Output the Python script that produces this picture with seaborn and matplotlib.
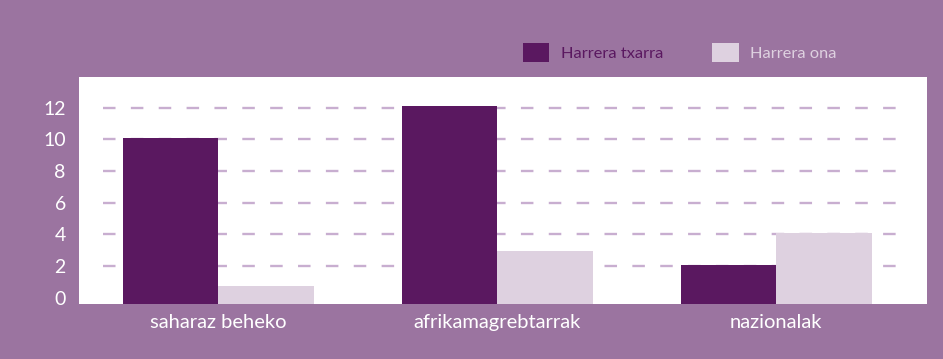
import matplotlib
matplotlib.use("Agg")
import matplotlib.pyplot as plt
import seaborn as sns
import pandas as pd
from matplotlib.patches import Patch

# Data
categories = ["saharaz beheko", "afrikamagrebtarrak", "nazionalak"]
series_names = ["Harrera txarra", "Harrera ona"]
harrera_txarra = [10.1, 12.1, 2.05]
harrera_ona = [0.75, 2.95, 4.1]
y_ticks = [0, 2, 4, 6, 8, 10, 12]

BG = "#9b74a0"
DARK = "#5a1860"
LIGHT = "#ded1e0"
GRID = "#c8aed0"

df = pd.DataFrame({
    "kategoria": categories * 2,
    "serie": [series_names[0]] * 3 + [series_names[1]] * 3,
    "balioa": harrera_txarra + harrera_ona,
})

sns.set_theme(style="white")
plt.rcParams["font.family"] = ["Lato", "DejaVu Sans"]

fig = plt.figure(figsize=(9.43, 3.59), dpi=100, facecolor=BG)
ax = fig.add_axes([0.0838, 0.1532, 0.8992, 0.6331])
ax.set_facecolor("white")

sns.barplot(data=df, x="kategoria", y="balioa", hue="serie",
            hue_order=series_names, palette=[DARK, LIGHT],
            width=0.687, saturation=1, errorbar=None, linewidth=0,
            legend=False, ax=ax, zorder=3)

ymin, ymax = -0.4, 13.96
ax.set_ylim(ymin, ymax)
ax.set_xlim(-0.5, 2.54)

# bars are anchored to the bottom edge of the plot area
for p in ax.patches:
    top = p.get_y() + p.get_height()
    p.set_y(ymin)
    p.set_height(top - ymin)

# dashed guide lines
for t in y_ticks[1:]:
    ax.axhline(t, xmin=0.028, xmax=0.965, color=GRID, lw=1.7,
               linestyle=(0, (5.3, 6.5)), zorder=1)

ax.set_yticks(y_ticks)
ax.set_yticklabels([str(t) for t in y_ticks])
ax.tick_params(axis="y", length=0, pad=9.5, labelsize=14, labelcolor="white")
ax.tick_params(axis="x", length=0, pad=7, labelsize=14.5, labelcolor="white")
ax.set_xlabel("")
ax.set_ylabel("")
for s in ax.spines.values():
    s.set_visible(False)
ax.grid(False)

handles = [Patch(facecolor=DARK, edgecolor="none"),
           Patch(facecolor=LIGHT, edgecolor="none")]
leg = fig.legend(handles, series_names, loc="center",
                 bbox_to_anchor=(0.721, 0.854), ncol=2, frameon=False,
                 fontsize=11.8, handlelength=1.6, handleheight=1.45,
                 handletextpad=0.7, columnspacing=3.0)
for txt, col in zip(leg.get_texts(), [DARK, LIGHT]):
    txt.set_color(col)

fig.savefig("out.png", dpi=100, facecolor=BG)
